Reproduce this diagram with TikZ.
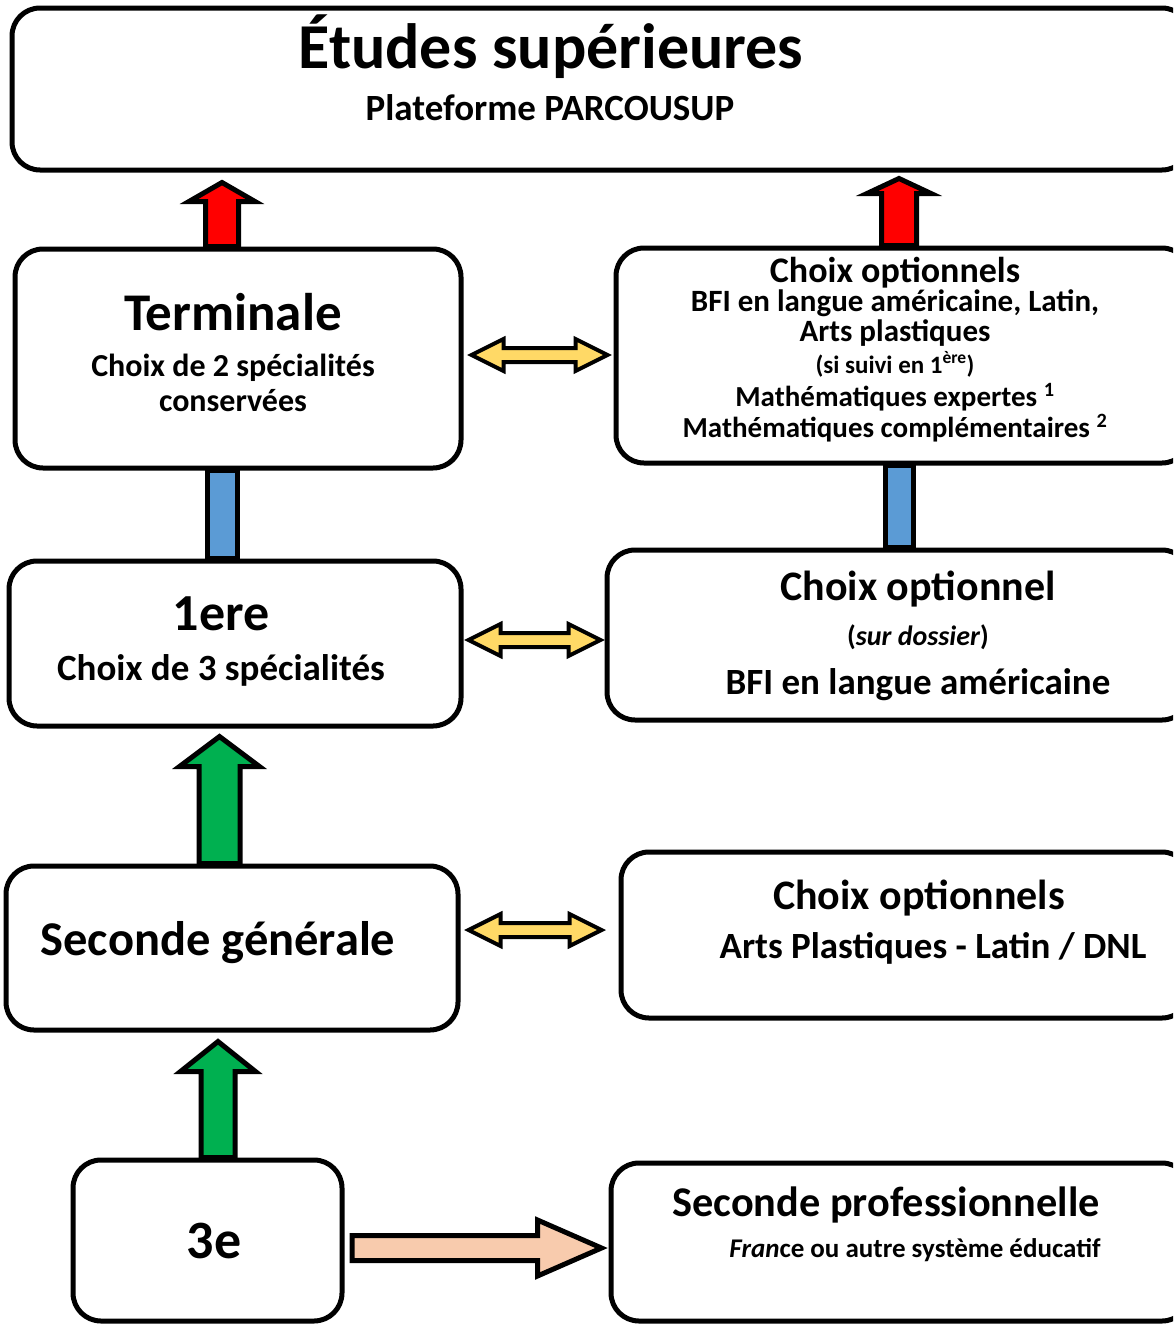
\documentclass[tikz,border=0pt]{standalone}
\usepackage{fontspec}
\setmainfont{Carlito}
\usetikzlibrary{calc}

\definecolor{rouge}{HTML}{FF0000}
\definecolor{bleu}{HTML}{5B9BD5}
\definecolor{vert}{HTML}{00B050}
\definecolor{jaune}{HTML}{FFD966}
\definecolor{saumon}{HTML}{F8CBAD}

\newcommand{\fs}[1]{\fontsize{#1}{#1}\selectfont\bfseries}

\tikzset{
  cadre/.style={draw, line width=5pt, rounded corners=28pt, fill=white},
  fleche/.style={draw, line width=5pt, line join=miter, miter limit=20},
  texte/.style={anchor=base, inner sep=0pt},
}

% grosse fleche : depart, arrivee, couleur, demi-tige, demi-tete, tete
\newcommand{\grossefleche}[6]{%
  \coordinate (hb) at ($(#2)!#6pt!(#1)$);
  \draw[fleche, fill=#3] ($(#1)!#4pt!90:(#2)$) -- ($(hb)!#4pt!90:(#2)$)
    -- ($(hb)!#5pt!90:(#2)$) -- (#2) -- ($(hb)!#5pt!-90:(#2)$)
    -- ($(hb)!#4pt!-90:(#2)$) -- ($(#1)!#4pt!-90:(#2)$) -- cycle;
}
% double fleche
\newcommand{\doublefleche}[6]{%
  \coordinate (ha) at ($(#1)!#6pt!(#2)$);
  \coordinate (hb) at ($(#2)!#6pt!(#1)$);
  \draw[fleche, line width=4pt, fill=#3] (#1) -- ($(ha)!#5pt!90:(#2)$)
    -- ($(ha)!#4pt!90:(#2)$) -- ($(hb)!#4pt!90:(#2)$) -- ($(hb)!#5pt!90:(#2)$)
    -- (#2) -- ($(hb)!#5pt!-90:(#2)$) -- ($(hb)!#4pt!-90:(#2)$)
    -- ($(ha)!#4pt!-90:(#2)$) -- ($(ha)!#5pt!-90:(#2)$) -- cycle;
}

\begin{document}
\begin{tikzpicture}[x=1pt, y=-1pt]
\useasboundingbox (0,0) rectangle (1173,1325);
\clip (0,0) rectangle (1173,1325);
\fill[white] (0,0) rectangle (1173,1325);

% cadres
\node[cadre, minimum width=1178, minimum height=162] (sup) at (601,89) {};
\node[cadre, minimum width=446, minimum height=219] (term) at (238,358.5) {};
\node[cadre, minimum width=574, minimum height=215] (optT) at (903,355.5) {};
\node[cadre, minimum width=452, minimum height=165] (prem) at (235,643.5) {};
\node[cadre, minimum width=583, minimum height=170] (optP) at (898.5,635) {};
\node[cadre, minimum width=452, minimum height=164] (sec) at (232,948) {};
\node[cadre, minimum width=569, minimum height=166] (optS) at (905.5,935) {};
\node[cadre, minimum width=269, minimum height=161] (trois) at (207.5,1240.5) {};
\node[cadre, minimum width=579, minimum height=158] (pro) at (900.5,1242) {};

% textes
\node[texte, font=\fs{64}] (supA) at (551,68) {Études supérieures};
\node[texte, font=\fs{37}] (supB) at (550,120) {Plateforme PARCOUSUP};

\node[texte, font=\fs{53}] (termA) at (233,330) {Terminale};
\node[texte, font=\fs{32}] (termB) at (233,376) {Choix de 2 spécialités};
\node[texte, font=\fs{32}] (termC) at (233,411) {conservées};

\node[texte, font=\fs{36}] (optTA) at (895,282) {Choix optionnels};
\node[texte, font=\fs{31}] (optTB) at (895,311) {BFI en langue américaine, Latin,};
\node[texte, font=\fs{31}] (optTC) at (895,341) {Arts plastiques};
\node[texte, font=\fs{25}] (optTD) at (895,373) {(si suivi en 1\textsuperscript{ère})};
\node[texte, font=\fs{29}] (optTE) at (895,406) {Mathématiques expertes \textsuperscript{1}};
\node[texte, font=\fs{29}] (optTF) at (895,437) {Mathématiques complémentaires \textsuperscript{2}};

\node[texte, font=\fs{52}] (premA) at (221,630) {1ere};
\node[texte, font=\fs{37}] (premB) at (221,680) {Choix de 3 spécialités};

\node[texte, font=\fs{42}] (optPA) at (918,600) {Choix optionnel};
\node[texte, font=\fs{28}] (optPB) at (918,645) {(\textit{sur dossier})};
\node[texte, font=\fs{37}] (optPC) at (918,694) {BFI en langue américaine};

\node[texte, font=\fs{48.5}] (secA) at (218,955) {Seconde générale};

\node[texte, font=\fs{42}] (optSA) at (919,909) {Choix optionnels};
\node[texte, font=\fs{37}] (optSB) at (933,958) {Arts Plastiques - Latin / DNL};

\node[texte, font=\fs{54}] (troisA) at (214,1258) {3e};

\node[texte, font=\fs{42.3}] (proA) at (886,1216) {Seconde professionnelle};
\node[texte, font=\fs{27}] (proB) at (915,1257) {\textit{Fran}ce ou autre système éducatif};

% fleches rouges
\coordinate (r1a) at ($(term.north)+(-16,0)$);
\coordinate (r1b) at ($(r1a |- sup.south)+(0,10)$);
\grossefleche{r1a}{r1b}{rouge}{16.5}{33}{19}
\coordinate (r2a) at ($(optT.north)+(-4,0)$);
\coordinate (r2b) at ($(r2a |- sup.south)+(0,6)$);
\grossefleche{r2a}{r2b}{rouge}{17.5}{32}{15}

% liens bleus
\draw[fleche, fill=bleu] ($(term.south)+(-30.5,0)$) rectangle ($(prem.north)+(2.5,0)$);
\draw[fleche, fill=bleu] ($(optT.south)+(-17.5,0)$) rectangle ($(optP.north)+(15,0)$);

% fleches vertes
\coordinate (v1a) at ($(sec.north)+(-12.5,0)$);
\coordinate (v1b) at ($(v1a |- prem.south)+(0,8)$);
\grossefleche{v1a}{v1b}{vert}{20.5}{40}{30}
\coordinate (v2a) at ($(trois.north)+(10.5,0)$);
\coordinate (v2b) at ($(v2a |- sec.south)+(0,9)$);
\grossefleche{v2a}{v2b}{vert}{17}{37.5}{30}

% doubles fleches
\coordinate (j1a) at ($(term.east)+(8,-3.5)$);
\coordinate (j1b) at ($(j1a -| optT.west)+(-6,0)$);
\doublefleche{j1a}{j1b}{jaune}{7}{16}{32}
\coordinate (j2a) at ($(prem.east)+(5,-3.5)$);
\coordinate (j2b) at ($(j2a -| optP.west)+(-4,0)$);
\doublefleche{j2a}{j2b}{jaune}{7}{16}{32}
\coordinate (j3a) at ($(sec.east)+(8,-18)$);
\coordinate (j3b) at ($(j3a -| optS.west)+(-17,0)$);
\doublefleche{j3a}{j3b}{jaune}{7}{16}{32}

% vers la voie pro
\coordinate (s1a) at ($(trois.east)+(7.5,7.5)$);
\coordinate (s1b) at ($(s1a -| pro.west)+(-7,0)$);
\grossefleche{s1a}{s1b}{saumon}{12.5}{28}{64}
\end{tikzpicture}
\end{document}
